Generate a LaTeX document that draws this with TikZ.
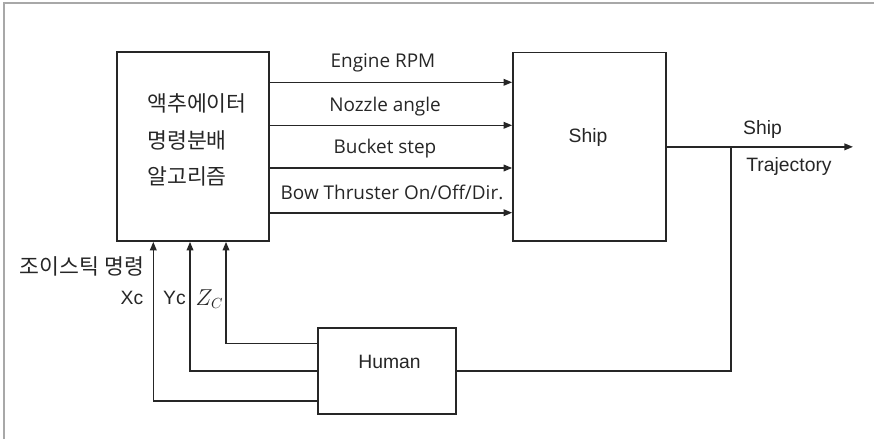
\documentclass[tikz,border=0pt]{standalone}
\usepackage{fontspec}
\setmainfont{Liberation Sans}
\newfontfamily\krfont{Noto Sans CJK KR}
\newfontfamily\lblfont{Open Sans}
\usetikzlibrary{arrows.meta}
\definecolor{ln}{HTML}{262626}
\definecolor{frm}{HTML}{A8A8A8}
\tikzset{
  blk/.style={draw=ln, line width=1.2pt, inner sep=0pt, rectangle},
  arr/.style={draw=ln, line width=1.2pt, -{Triangle[length=6.5pt,width=5pt]}},
  wire/.style={draw=ln, line width=1.2pt},
  kr/.style={font=\krfont\fontsize{16.2}{19}\selectfont, text=ln, inner sep=0pt},
  sig/.style={font=\lblfont\fontsize{14.2}{16}\selectfont, text=ln, inner sep=0pt},
  lbl/.style={font=\fontsize{14.5}{17}\selectfont, text=ln, inner sep=0pt},
}
\begin{document}
\begin{tikzpicture}[x=0.75pt, y=-0.75pt]
\useasboundingbox (0,0) rectangle (874,439);
% frame (top and left only)
\draw[frm, line width=1.2pt] (4,439) -- (4,3) -- (874,3);

% blocks
\node[blk, minimum width=114pt, minimum height=141.75pt] (alg) at (193,146.5) {};
\node[blk, minimum width=114.75pt, minimum height=141.4pt] (ship) at (589.5,146.85) {};
\node[blk, minimum width=103.5pt, minimum height=64.5pt] (human) at (387,371) {};

% block texts
\node[kr, anchor=west] (k1) at (147,103) {액추에이터};
\node[kr, anchor=west] (k2) at (147,140) {명령분배};
\node[kr, anchor=west] (k3) at (147,176) {알고리즘};
\node[lbl] (shiptxt) at (588,137) {Ship};
\node[lbl] (humantxt) at (389.5,362) {Human};

% command arrows
\coordinate (y1) at (0,82.3);
\coordinate (y2) at (0,125.3);
\coordinate (y3) at (0,168);
\coordinate (y4) at (0,212.7);
\draw[arr] (alg.east |- y1) -- (ship.west |- y1);
\draw[arr] (alg.east |- y2) -- (ship.west |- y2);
\draw[arr] (alg.east |- y3) -- (ship.west |- y3);
\draw[arr] (alg.east |- y4) -- (ship.west |- y4);
\node[sig] (l1) at (383,63) {Engine RPM};
\node[sig] (l2) at (385,106.5) {Nozzle angle};
\node[sig] (l3) at (385,149) {Bucket step};
\node[sig] (l4) at (392,192.5) {Bow Thruster On/Off/Dir.};

% output
\coordinate (br) at (730.7,146.85);
\coordinate (out) at (853,146.85);
\draw[arr] (ship.east) -- (out);
\node[lbl] (o1) at (762.5,129) {Ship};
\node[lbl] (o2) at (789,166.7) {Trajectory};

% feedback to human
\draw[wire] (br) |- (human.east);

% joystick commands
\coordinate (hz) at (0,343.3);
\coordinate (hy) at (0,371);
\coordinate (hx) at (0,400.7);
\coordinate (cz) at (226,0);
\coordinate (cy) at (190,0);
\coordinate (cx) at (153.3,0);
\draw[arr] (human.west |- hz) -| (alg.south -| cz);
\draw[arr] (human.west |- hy) -| (alg.south -| cy);
\draw[arr] (human.west |- hx) -| (alg.south -| cx);
\node[kr] (joy) at (82,266.7) {조이스틱 명령};
\node[lbl] (xc) at (132,298) {Xc};
\node[lbl] (yc) at (174.5,298) {Yc};
\node[text=ln, inner sep=0pt, font=\fontsize{16}{18}\selectfont] (zc) at (209.5,299) {$Z_C$};
\end{tikzpicture}
\end{document}
